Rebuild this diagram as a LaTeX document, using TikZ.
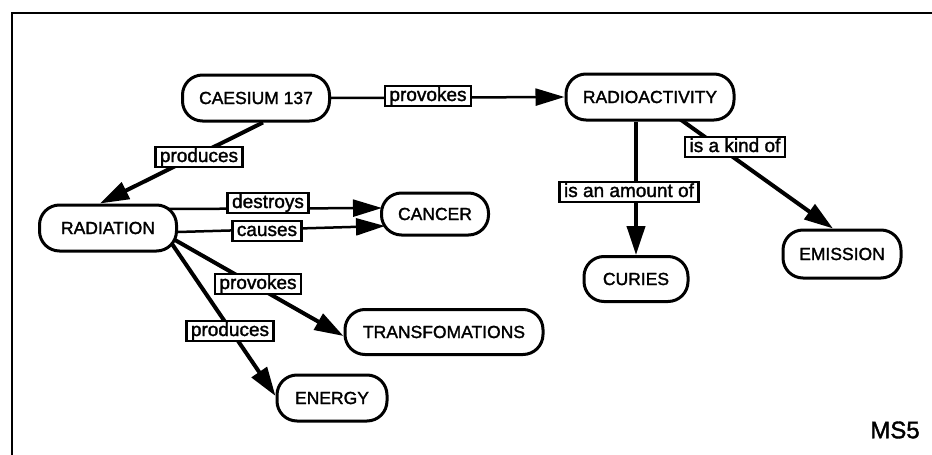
\documentclass[tikz,border=0pt]{standalone}
\usepackage{fontspec}
\setmainfont{Liberation Sans}
\newfontfamily\heavyfont[FakeBold=1.6]{Liberation Sans}
\usetikzlibrary{arrows.meta,backgrounds}
\begin{document}
\begin{tikzpicture}[x=1pt,y=-1pt,
  concept/.style={draw,line width=3pt,rounded corners=20pt,fill=white,inner sep=0pt,
    minimum height=46pt,font=\heavyfont\fontsize{17.5}{20}\selectfont},
  lbl/.style={draw,line width=2.4pt,fill=white,inner xsep=4.5pt,inner ysep=1pt,
    text height=14pt,text depth=4pt,font=\heavyfont\fontsize{19}{22}\selectfont},
  thinlink/.style={line width=2.5pt,-{Triangle[length=29pt,width=17pt]}},
  thicklink/.style={line width=4pt,-{Triangle[length=29pt,width=18pt]}}]
\useasboundingbox (0,0) rectangle (932,455);
\draw[line width=2.2pt] (12,455) -- (12,13) -- (932,13);

% concepts
\node[concept,minimum width=147pt] (cae) at (256,98) {CAESIUM 137};
\node[concept,minimum width=168pt] (radio) at (650,97) {RADIOACTIVITY};
\node[concept,minimum width=137pt] (radn) at (108,228) {RADIATION};
\node[concept,minimum width=107pt,minimum height=42pt] (cancer) at (435,214) {CANCER};
\node[concept,minimum width=198pt,minimum height=45pt] (trans) at (444,332) {TRANSFOMATIONS};
\node[concept,minimum width=110pt] (energy) at (332,398) {ENERGY};
\node[concept,minimum width=104pt,minimum height=45pt] (curies) at (636,279) {CURIES};
\node[concept,minimum width=118pt,minimum height=48pt] (emission) at (842,254) {EMISSION};

% connectors
\begin{scope}[on background layer]
\draw[thinlink] (cae.east) -- (radio.west);
\draw[thicklink] ([xshift=7pt]cae.south) -- ([xshift=-8pt]radn.north);
\draw[thinlink] ([shift={(57pt,19pt)}]radn.center) -- ([shift={(-53pt,6pt)}]cancer.center);
\draw[thinlink] ([yshift=-4pt]radn.east) -- ([shift={(-50pt,-12pt)}]cancer.center);
\draw[thicklink] ([shift={(60pt,-8pt)}]radn.center) -- ([yshift=-4pt]trans.west);
\draw[thicklink] ([shift={(60pt,-10pt)}]radn.center) -- ([yshift=2pt]energy.west);
\draw[thicklink] (radio.south -| curies.north) -- (curies.north);
\draw[thicklink] ([shift={(27pt,-20pt)}]radio.center) -- ([xshift=-9pt]emission.north);
\end{scope}

% link labels
\node[lbl] (l1) at (428,96) {provokes};
\node[lbl] (l2) at (199,157) {produces};
\node[lbl] (l3) at (268,203) {destroys};
\node[lbl] (l4) at (267,231) {causes};
\node[lbl] (l5) at (258,284) {provokes};
\node[lbl] (l6) at (230,331) {produces};
\node[lbl] (l7) at (629,192) {is an amount of};
\node[lbl] (l8) at (735,147) {is a kind of};

\node[font=\heavyfont\fontsize{24}{28}\selectfont,inner sep=0pt] (ms) at (895,430) {MS5};
\end{tikzpicture}
\end{document}
